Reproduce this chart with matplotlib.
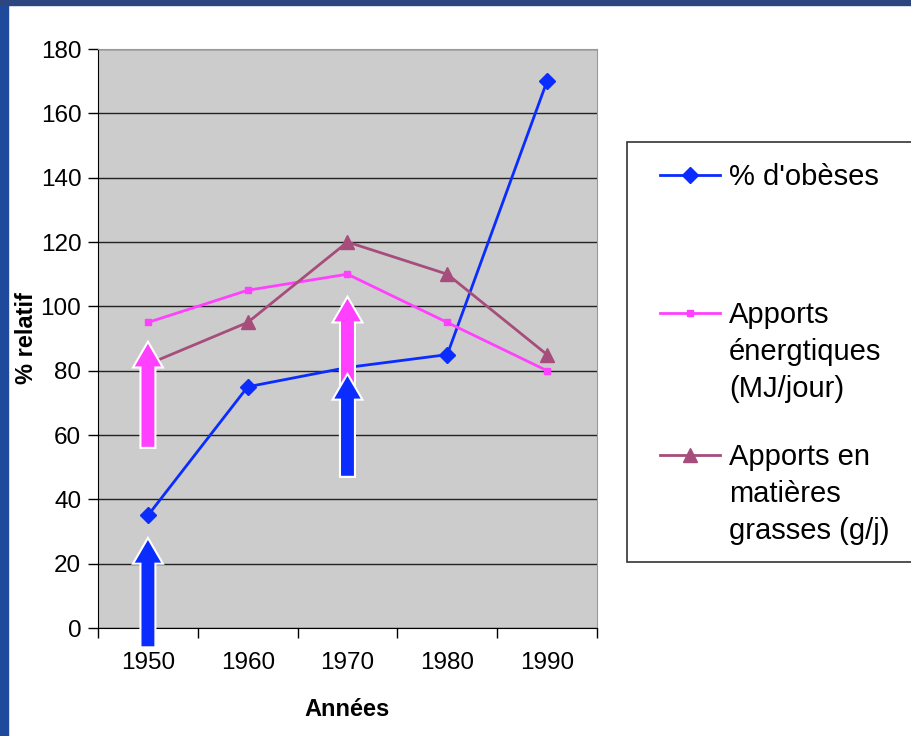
import matplotlib.pyplot as plt
from matplotlib.patches import Rectangle
from matplotlib.lines import Line2D

plt.rcParams['font.family'] = ['Liberation Sans', 'DejaVu Sans']

# données
annees = ['1950', '1960', '1970', '1980', '1990']
obeses = [35, 75, 81, 85, 170]
energie = [95, 105, 110, 95, 80]
graisses = [82, 95, 120, 110, 85]

noms = ["% d'obèses", "Apports\nénergtiques\n(MJ/jour)", "Apports en\nmatières\ngrasses (g/j)"]
couleurs = ['#0a2cff', '#ff40ff', '#a64d7c']
marqueurs = ['D', 's', '^']
tailles = [8, 5, 10]

# flèches (x index, base, pointe, couleur)
fleches_x = [0, 0, 2, 2]
fleches_bas = [56, -6, 47, 47]
fleches_haut = [89, 28, 103, 79]
fleches_coul = ['#ff40ff', '#0a2cff', '#ff40ff', '#0a2cff']

fig = plt.figure(figsize=(9.12, 7.36), dpi=100)
fig.patch.set_facecolor('white')

# bordure bleue
fig.add_artist(Rectangle((0, 0), 0.009, 1, transform=fig.transFigure, color='#1f4a9c', zorder=0))
fig.add_artist(Rectangle((0, 0.993), 1, 0.007, transform=fig.transFigure, color='#2c4680', zorder=0))

ax = fig.add_axes([0.1075, 0.1467, 0.547, 0.7867])
ax.set_facecolor('#cccccc')

x = list(range(len(annees)))
series = [obeses, energie, graisses]
for i in range(3):
    ax.plot(x, series[i], color=couleurs[i], marker=marqueurs[i], markersize=tailles[i],
            lw=2, zorder=3)

for xi, b, h, c in zip(fleches_x, fleches_bas, fleches_haut, fleches_coul):
    ax.arrow(xi, b, 0, h - b, width=0.15, head_width=0.3, head_length=8,
             length_includes_head=True, fc=c, ec='white', lw=1.5, zorder=4, clip_on=False)

ax.set_xlim(-0.5, 4.5)
ax.set_ylim(0, 180)
ax.set_yticks(range(0, 181, 20))
ax.set_xticks(x)
ax.set_xticklabels(annees)
ax.set_xticks([i - 0.5 for i in range(6)], minor=True)
ax.tick_params(axis='x', which='major', length=0, pad=17, labelsize=17.5)
ax.tick_params(axis='x', which='minor', length=7, width=1, direction='out')
ax.tick_params(axis='y', length=7, width=1, labelsize=17.5, pad=5)
ax.grid(axis='y', color='#222222', lw=1)
ax.set_axisbelow(True)
for s in ['top', 'right']:
    ax.spines[s].set_color('#999999')
ax.spines['left'].set_color('black')
ax.spines['bottom'].set_color('black')

ax.set_xlabel('Années', fontsize=17, fontweight='bold')
ax.xaxis.set_label_coords(0.5, -0.121)
ax.set_ylabel('% relatif', fontsize=17, fontweight='bold')
ax.yaxis.set_label_coords(-0.12, 0.5)

# légende faite à la main
fig.add_artist(Rectangle((627 / 912, 1 - 562 / 736), 290 / 912, 420 / 736, transform=fig.transFigure,
                         fc='white', ec='#333333', lw=1.2))
leg_y = [175, 313, 455]
for i in range(3):
    yy = 1 - leg_y[i] / 736
    fig.add_artist(Line2D([660 / 912, 720 / 912], [yy, yy], transform=fig.transFigure,
                          color=couleurs[i], lw=2))
    fig.add_artist(Line2D([690 / 912], [yy], transform=fig.transFigure, color=couleurs[i],
                          marker=marqueurs[i], markersize=tailles[i]))
    fig.text(729 / 912, yy + 12 / 736, noms[i], fontsize=21, va='top', ha='left', linespacing=1.42)

plt.savefig('out.png')
